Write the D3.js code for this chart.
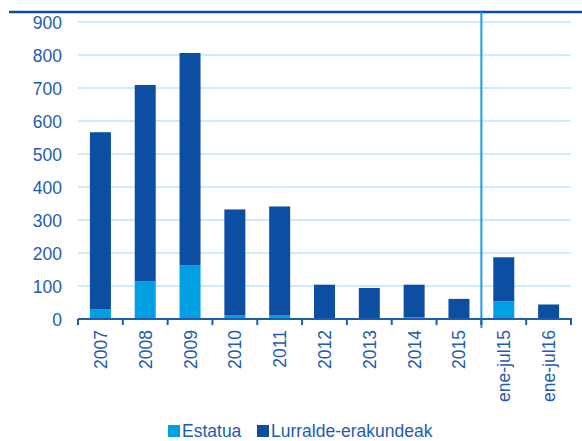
<!DOCTYPE html>
<html>
<head>
<meta charset="utf-8">
<script src="https://cdn.jsdelivr.net/npm/d3@7"></script>
<style>
  body { margin: 0; background: #fff; }
  text { font-family: "Liberation Sans", Arial, sans-serif; }
</style>
</head>
<body>
<script>
const w = 582
const h = 441
const m = {top: 22, right: 11, bottom: 122, left: 78}

const categories = ['2007', '2008', '2009', '2010', '2011', '2012', '2013', '2014', '2015', 'ene-jul15', 'ene-jul16']
const estatua = [30, 114, 163, 12, 12, 2, 1, 5, 2, 54, 0]
const lurralde = [536, 595, 643, 320, 329, 102, 93, 99, 59, 133, 44]
const yTicks = [0, 100, 200, 300, 400, 500, 600, 700, 800, 900]
const seriesNames = ['Estatua', 'Lurralde-erakundeak']
const colors = ['#009fe3', '#0b4ea2']

const rows = categories.map((c, i) => ({cat: c, Estatua: estatua[i], 'Lurralde-erakundeak': lurralde[i]}))
const stacked = d3.stack().keys(seriesNames)(rows)

const svg = d3.select('body').append('svg').attr('width', w).attr('height', h)

const x = d3.scaleBand().domain(categories).range([m.left, w - m.right]).paddingInner(0).paddingOuter(0)
const y = d3.scaleLinear().domain([0, 900]).range([h - m.bottom - 0, m.top])

// top rule
svg.append('line').attr('x1', 9).attr('x2', w).attr('y1', 12).attr('y2', 12)
  .attr('stroke', '#0b4ea2').attr('stroke-width', 2.5)

// grid
svg.append('g').selectAll('line').data(yTicks.slice(1)).enter().append('line')
  .attr('x1', m.left).attr('x2', w - m.right)
  .attr('y1', d => y(d)).attr('y2', d => y(d))
  .attr('stroke', '#bde6f8').attr('stroke-width', 1.3)

// y labels
svg.append('g').selectAll('text').data(yTicks).enter().append('text')
  .attr('x', 62).attr('y', d => y(d) + 6.5)
  .attr('text-anchor', 'end').attr('font-size', 17.5).attr('fill', '#1f5bb0')
  .text(d => d)

// bars
const bw = 21
svg.append('g').selectAll('g').data(stacked).enter().append('g')
  .attr('fill', (d, i) => colors[i])
  .selectAll('rect').data(d => d).enter().append('rect')
  .attr('x', d => x(d.data.cat) + x.bandwidth() / 2 - bw / 2)
  .attr('width', bw)
  .attr('y', d => y(d[1]))
  .attr('height', d => y(d[0]) - y(d[1]))

// separator between years and partial periods
svg.append('line')
  .attr('x1', x('ene-jul15')).attr('x2', x('ene-jul15'))
  .attr('y1', 12).attr('y2', 328)
  .attr('stroke', '#1a9ee0').attr('stroke-width', 2)

// x axis
const xAxis = d3.axisBottom(x).tickSize(0).tickFormat('')
const ax = svg.append('g').attr('transform', 'translate(0,' + y(0) + ')').call(xAxis)
ax.select('.domain').attr('stroke', '#1f5bb0').attr('stroke-width', 2)
  .attr('d', 'M' + m.left + ',0H' + (w - m.right + 1))
svg.append('g').selectAll('line').data(d3.range(categories.length + 1)).enter().append('line')
  .attr('x1', i => m.left + i * x.step()).attr('x2', i => m.left + i * x.step())
  .attr('y1', y(0)).attr('y2', y(0) + 6)
  .attr('stroke', '#1f5bb0').attr('stroke-width', 2)

// x labels
svg.append('g').selectAll('text').data(categories).enter().append('text')
  .attr('transform', d => 'translate(' + (x(d) + x.bandwidth() / 2 + 6.5) + ',' + 330 + ') rotate(-90)')
  .attr('text-anchor', 'end').attr('font-size', 17.5).attr('fill', '#1f5bb0')
  .text(d => d)

// legend
const legend = svg.append('g')
const lx = [168, 257]
seriesNames.forEach((s, i) => {
  legend.append('rect').attr('x', lx[i]).attr('y', 425).attr('width', 12).attr('height', 12).attr('fill', colors[i])
  legend.append('text').attr('x', lx[i] + 14).attr('y', 437).attr('font-size', 17.5).attr('fill', '#1f5bb0').text(s)
})
</script>
</body>
</html>
